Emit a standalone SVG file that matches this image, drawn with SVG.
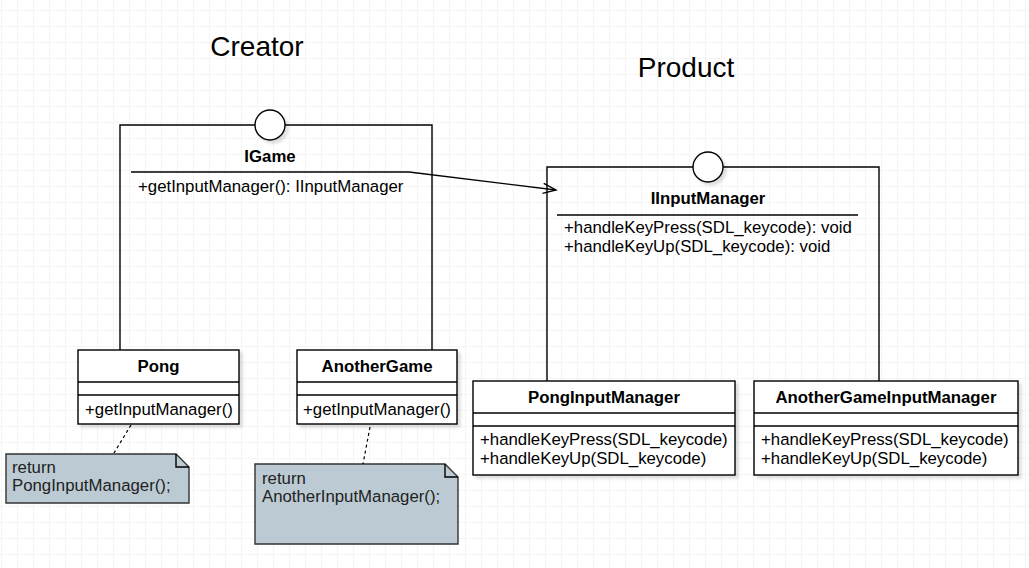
<svg xmlns="http://www.w3.org/2000/svg" width="1029" height="568" viewBox="0 0 1029 568">
<defs>
<pattern id="grid" x="1" y="10" width="16" height="16" patternUnits="userSpaceOnUse">
<path d="M0,0 H16 M0,0 V16" fill="none" stroke="#ebebeb" stroke-width="1"/>
</pattern>
<filter id="sh" x="-10%" y="-10%" width="130%" height="140%">
<feDropShadow dx="3" dy="3" stdDeviation="1.5" flood-color="#000" flood-opacity="0.13"/>
</filter>
<marker id="open" viewBox="-14 -7 16 14" refX="0" refY="0" markerWidth="16" markerHeight="14" markerUnits="userSpaceOnUse" orient="auto">
<path d="M-13,-5 L0,0 L-13,5" fill="none" stroke="#000" stroke-width="1.4"/>
</marker>
<style>
text{font-family:"Liberation Sans",Arial,sans-serif;fill:#000}
.t{font-size:28px}
.n{font-size:16.8px;font-weight:bold;text-anchor:middle}
.m{font-size:16.8px}
.note{font-size:16.8px;fill:#222}
.box{fill:#fff;stroke:#000;stroke-width:1.4}
.ln{fill:none;stroke:#000;stroke-width:1.4}
.frame{fill:none;stroke:#000;stroke-width:1.4}
.nt{fill:#bccbd3;stroke:#333;stroke-width:1.4}
.dash{fill:none;stroke:#000;stroke-width:1.2;stroke-dasharray:3 3}
</style>
</defs>
<rect width="1029" height="568" fill="#fff"/>
<rect width="1029" height="568" fill="url(#grid)"/>

<text class="t" x="257" y="56" text-anchor="middle">Creator</text>
<text class="t" x="686" y="77" text-anchor="middle">Product</text>

<g id="IGame">
<path class="frame" d="M120,350 V125 H432 V350"/>
<circle cx="270" cy="125" r="15" fill="#fff" stroke="#000" stroke-width="1.4" filter="url(#sh)"/>
<text class="n" x="270" y="162">IGame</text>
<path class="ln" d="M131,172 H409"/>
<text class="m" x="138" y="192">+getInputManager(): IInputManager</text>
</g>

<g id="IInputManager">
<path class="frame" d="M547,381 V167 H879 V381"/>
<circle cx="708" cy="167" r="15" fill="#fff" stroke="#000" stroke-width="1.4" filter="url(#sh)"/>
<text class="n" x="708" y="204">IInputManager</text>
<path class="ln" d="M557,215 H858"/>
<text class="m" x="564" y="233">+handleKeyPress(SDL_keycode): void</text>
<text class="m" x="564" y="252">+handleKeyUp(SDL_keycode): void</text>
</g>

<g id="Pong">
<rect class="box" x="78" y="350" width="161" height="74" filter="url(#sh)"/>
<path class="ln" d="M78,382 H239 M78,395 H239"/>
<text class="n" x="158.5" y="372">Pong</text>
<text class="m" x="85" y="415">+getInputManager()</text>
</g>

<g id="AnotherGame">
<rect class="box" x="297" y="350" width="160" height="74" filter="url(#sh)"/>
<path class="ln" d="M297,382 H457 M297,395 H457"/>
<text class="n" x="377" y="372">AnotherGame</text>
<text class="m" x="303" y="415">+getInputManager()</text>
</g>

<g id="PongInputManager">
<rect class="box" x="473" y="381" width="262" height="94" filter="url(#sh)"/>
<path class="ln" d="M473,413 H735 M473,426 H735"/>
<text class="n" x="604" y="403">PongInputManager</text>
<text class="m" x="480" y="445">+handleKeyPress(SDL_keycode)</text>
<text class="m" x="480" y="464">+handleKeyUp(SDL_keycode)</text>
</g>

<g id="AnotherGameInputManager">
<rect class="box" x="754" y="381" width="264" height="94" filter="url(#sh)"/>
<path class="ln" d="M754,413 H1018 M754,426 H1018"/>
<text class="n" x="886" y="403">AnotherGameInputManager</text>
<text class="m" x="761" y="445">+handleKeyPress(SDL_keycode)</text>
<text class="m" x="761" y="464">+handleKeyUp(SDL_keycode)</text>
</g>

<g id="note1">
<path class="nt" d="M6,454 H176 L189,467 V503 H6 Z"/>
<path class="ln" d="M176,454 V467 H189" stroke="#333"/>
<text class="note" x="12" y="473">return</text>
<text class="note" x="12" y="491">PongInputManager();</text>
</g>

<g id="note2">
<path class="nt" d="M255,464 H445 L458,477 V544 H255 Z"/>
<path class="ln" d="M445,464 V477 H458" stroke="#333"/>
<text class="note" x="262" y="484">return</text>
<text class="note" x="262" y="502">AnotherInputManager();</text>
</g>

<g id="connectors">
<path class="ln" d="M409,172 L556,190" marker-end="url(#open)"/>
<path class="dash" d="M131,425 L114,453"/>
<path class="dash" d="M370,427 L363,464"/>
</g>
</svg>
